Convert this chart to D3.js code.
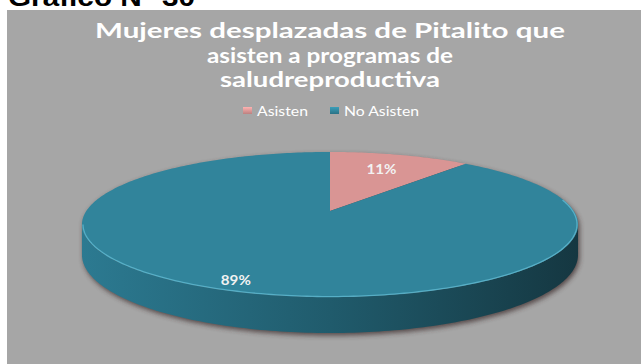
<!DOCTYPE html>
<html>
<head>
<meta charset="utf-8">
<script src="https://cdn.jsdelivr.net/npm/d3@7"></script>
<style>
  html, body { margin: 0; padding: 0; background: #ffffff; }
  svg { display: block; }
</style>
</head>
<body>
<svg id="chart" width="641" height="364"></svg>
<script>
// ---- data ----
const categories = ["Asisten", "No Asisten"];
const values = [11, 89];
const heading = "Gráfico N° 30";
const titleLines = [
  "Mujeres desplazadas de Pitalito que",
  "asisten a programas de",
  "saludreproductiva"
];

// ---- styling ----
const topColors = ["#d99594", "#31849b"];
const sideStops = [
  ["#b07070", "#8a4e4e", "#5e3333"],
  ["#2c7a91", "#205b6c", "#153741"]
];

const W = 641, H = 364;
const svg = d3.select("#chart");
const defs = svg.append("defs");

// page heading (partly above the top edge) and gray chart area
svg.append("text")
  .attr("x", 8).attr("y", 6)
  .attr("font-family", "Liberation Sans, Arial, sans-serif")
  .attr("font-weight", "bold")
  .attr("font-size", 26)
  .attr("textLength", 187).attr("lengthAdjust", "spacingAndGlyphs")
  .attr("fill", "#000")
  .text(heading);

svg.append("rect")
  .attr("x", 7).attr("y", 10)
  .attr("width", W - 7).attr("height", H - 10)
  .attr("fill", "#a6a6a6");

// title
const titleWidths = [470, 246, 220];
svg.append("g").selectAll("text")
  .data(titleLines)
  .join("text")
  .attr("x", 330)
  .attr("y", (d, i) => 38 + i * 24.5)
  .attr("text-anchor", "middle")
  .attr("font-family", "Lato, sans-serif")
  .attr("font-weight", "bold")
  .attr("font-size", 20.5)
  .attr("textLength", (d, i) => titleWidths[i])
  .attr("lengthAdjust", "spacingAndGlyphs")
  .attr("fill", "#ffffff")
  .text(d => d);

// legend
const legendX = d3.scaleOrdinal().domain(categories).range([243, 330]);
const legendTextW = [51, 75];
const legend = svg.append("g").selectAll("g")
  .data(categories)
  .join("g")
  .attr("transform", d => `translate(${legendX(d)},107)`);
categories.forEach((c, i) => {
  const g = defs.append("linearGradient").attr("id", "lg" + i)
    .attr("x1", 0).attr("y1", 0).attr("x2", 0).attr("y2", 1);
  g.append("stop").attr("offset", "0%").attr("stop-color", d3.color(topColors[i]).brighter(0.5));
  g.append("stop").attr("offset", "100%").attr("stop-color", d3.color(topColors[i]).darker(0.4));
});
legend.append("rect")
  .attr("width", 9).attr("height", 7)
  .attr("fill", (d, i) => `url(#lg${i})`);
legend.append("text")
  .attr("x", 14).attr("y", 8.5)
  .attr("font-family", "Lato, sans-serif")
  .attr("font-size", 13)
  .attr("textLength", (d, i) => legendTextW[i])
  .attr("lengthAdjust", "spacingAndGlyphs")
  .attr("fill", "#ffffff")
  .text(d => d);

// ---- 3D pie in perspective ----
const cx = 330, cy = 211;   // projected centre of the top face
const R = 243.7;            // horizontal radius
const A = 70;               // vertical radius (before perspective)
const k = 0.186;            // perspective strength (near side larger)
const depth = 29.3;         // thickness of the pie

// pie angle a: 0 at the far point (12 o'clock), clockwise
function project(a, r, z) {
  const u = r * Math.sin(a), v = -r * Math.cos(a);
  const s = 1 / (1 - k * v);
  return [cx + R * u * s, cy + A * v * s + z * depth * s];
}

const pie = d3.pie().sort(null).value(d => d.value);
const arcs = pie(categories.map((c, i) => ({ cat: c, value: values[i], i })));
const total = d3.sum(values);

const steps = a => Math.max(2, Math.ceil(Math.abs(a) / (Math.PI / 180)));
function arcPoints(a0, a1, r, z) {
  const n = steps(a1 - a0);
  return d3.range(n + 1).map(j => project(a0 + (a1 - a0) * j / n, r, z));
}
const line = d3.line();

// front (visible) part of the rim
const frontLo = Math.acos(-k), frontHi = 2 * Math.PI - Math.acos(-k);

// shadow under the pie
const sh = defs.append("filter").attr("id", "shadow")
  .attr("x", "-10%").attr("y", "-10%").attr("width", "120%").attr("height", "140%");
sh.append("feGaussianBlur").attr("stdDeviation", 2.5);
const outline = arcPoints(frontLo, frontHi, 1, 1)
  .concat(arcPoints(frontHi, frontLo + 2 * Math.PI, 1, 0));
svg.append("path")
  .attr("d", line(outline) + "Z")
  .attr("fill", "#3b2a2a")
  .attr("opacity", 0.75)
  .attr("transform", "translate(1.5,2.5)")
  .attr("filter", "url(#shadow)");

// side walls
arcs.forEach((d, i) => {
  const g = defs.append("linearGradient").attr("id", "side" + i)
    .attr("gradientUnits", "userSpaceOnUse")
    .attr("x1", cx - R * 1.02).attr("x2", cx + R * 1.02)
    .attr("y1", 0).attr("y2", 0);
  g.append("stop").attr("offset", "0%").attr("stop-color", sideStops[i][0]);
  g.append("stop").attr("offset", "50%").attr("stop-color", sideStops[i][1]);
  g.append("stop").attr("offset", "100%").attr("stop-color", sideStops[i][2]);
});
const sides = svg.append("g");
arcs.forEach(d => {
  const lo = Math.max(d.startAngle, frontLo), hi = Math.min(d.endAngle, frontHi);
  if (hi <= lo) return;
  const pts = arcPoints(lo, hi, 1, 0).concat(arcPoints(hi, lo, 1, 1));
  sides.append("path")
    .attr("d", line(pts) + "Z")
    .attr("fill", `url(#side${d.data.i})`);
});

// top faces
svg.append("g").selectAll("path")
  .data(arcs)
  .join("path")
  .attr("d", d => line([project(0, 0, 0)].concat(arcPoints(d.startAngle, d.endAngle, 1, 0))) + "Z")
  .attr("fill", d => topColors[d.data.i]);

// light rim along the front edge of the top face
svg.append("path")
  .attr("d", line(arcPoints(frontLo - 0.35, frontHi, 0.996, 0)))
  .attr("fill", "none")
  .attr("stroke", "#63bdd6")
  .attr("stroke-width", 1.3)
  .attr("opacity", 0.75);

// percentage labels (angle offset in degrees, radius fraction)
const labelPlace = [
  { shift: 0, r: 0.7 },
  { shift: 1.6, r: 0.895 }
];
svg.append("g").selectAll("text")
  .data(arcs)
  .join("text")
  .each(function (d) {
    const p = labelPlace[d.data.i];
    const mid = (d.startAngle + d.endAngle) / 2 + p.shift * Math.PI / 180;
    const [x, y] = project(mid, p.r, 0);
    d3.select(this).attr("x", x - 15).attr("y", y + 4.5);
  })
  .attr("font-family", "Lato, sans-serif")
  .attr("font-weight", "bold")
  .attr("font-size", 13)
  .attr("textLength", 30)
  .attr("lengthAdjust", "spacingAndGlyphs")
  .attr("fill", "#f2f2f2")
  .text(d => Math.round(d.data.value / total * 100) + "%");
</script>
</body>
</html>
